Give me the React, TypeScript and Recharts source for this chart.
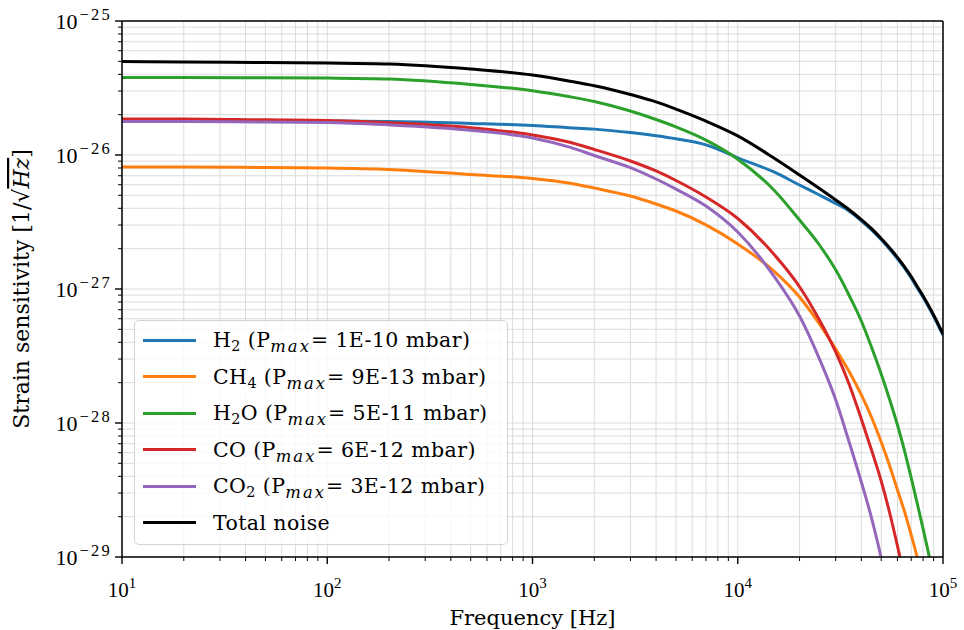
import React from "react";
import { LineChart, Line, XAxis, YAxis, CartesianGrid, Legend, ReferenceLine, Label } from "recharts";

// frequency samples [Hz]
const FREQ = [10, 20, 50, 100, 200, 500, 1000, 1500, 2000, 3000, 4000, 5000, 7000, 10000, 15000, 20000, 25000, 30000, 35000, 40000, 45000, 50000, 55000, 60000, 65000, 70000, 75000, 80000, 85000, 90000, 95000, 100000];

// strain sensitivity per gas [1/sqrt(Hz)]
const H2 = [1.79e-26, 1.79e-26, 1.79e-26, 1.79e-26, 1.78e-26, 1.72e-26, 1.66e-26, 1.6e-26, 1.56e-26, 1.47e-26, 1.39e-26, 1.32e-26, 1.19e-26, 9.53e-27, 7.47e-27, 5.97e-27, 5.03e-27, 4.35e-27, 3.81e-27, 3.23e-27, 2.75e-27, 2.33e-27, 1.98e-27, 1.68e-27, 1.43e-27, 1.21e-27, 1.02e-27, 8.69e-28, 7.38e-28, 6.27e-28, 5.32e-28, 4.52e-28];
const CH4 = [8.13e-27, 8.13e-27, 8.06e-27, 8.0e-27, 7.8e-27, 7.15e-27, 6.68e-27, 6.18e-27, 5.67e-27, 4.94e-27, 4.31e-27, 3.82e-27, 3.01e-27, 2.17e-27, 1.36e-27, 8.71e-28, 5.48e-28, 3.56e-28, 2.4e-28, 1.62e-28, 1.09e-28, 7.21e-29, 4.78e-29, 3.16e-29, 2.17e-29, 1.46e-29, 9.84e-30, 6.5e-30, null, null, null, null];
const H2O = [3.79e-26, 3.79e-26, 3.77e-26, 3.75e-26, 3.69e-26, 3.36e-26, 3.02e-26, 2.73e-26, 2.51e-26, 2.13e-26, 1.84e-26, 1.62e-26, 1.29e-26, 9.31e-27, 5.48e-27, 3.27e-27, 2.13e-27, 1.39e-27, 8.87e-28, 5.77e-28, 3.63e-28, 2.32e-28, 1.49e-28, 9.66e-29, 6.18e-29, 3.89e-29, 2.49e-29, 1.62e-29, 1.07e-29, 7.21e-30, null, null];
const CO = [1.86e-26, 1.86e-26, 1.83e-26, 1.81e-26, 1.74e-26, 1.6e-26, 1.41e-26, 1.25e-26, 1.1e-26, 9.02e-27, 7.6e-27, 6.45e-27, 4.86e-27, 3.36e-27, 1.82e-27, 1.04e-27, 5.87e-28, 3.39e-28, 1.92e-28, 1.07e-28, 6.18e-29, 3.69e-29, 2.13e-29, 1.21e-29, 6.97e-30, null, null, null, null, null, null, null];
const CO2 = [1.78e-26, 1.78e-26, 1.76e-26, 1.75e-26, 1.68e-26, 1.53e-26, 1.34e-26, 1.15e-26, 9.91e-27, 8.04e-27, 6.62e-27, 5.57e-27, 4.16e-27, 2.66e-27, 1.25e-27, 6.29e-28, 3.01e-28, 1.49e-28, 7.1e-29, 3.63e-29, 1.92e-29, 9.84e-30, 4.78e-30, null, null, null, null, null, null, null, null, null];
const TOTAL = [4.99e-26, 4.94e-26, 4.9e-26, 4.86e-26, 4.78e-26, 4.38e-26, 3.95e-26, 3.57e-26, 3.29e-26, 2.83e-26, 2.49e-26, 2.2e-26, 1.79e-26, 1.39e-26, 9.5e-27, 7.09e-27, 5.62e-27, 4.62e-27, 3.89e-27, 3.3e-27, 2.81e-27, 2.38e-27, 2.02e-27, 1.72e-27, 1.46e-27, 1.24e-27, 1.04e-27, 8.87e-28, 7.53e-28, 6.4e-28, 5.43e-28, 4.61e-28];

const GASES = ["H2", "CH4", "H2O", "CO", "CO2"];
const PRESSURES = ["1E-10", "9E-13", "5E-11", "6E-12", "3E-12"];
const KEYS = ["h2", "ch4", "h2o", "co", "co2", "total"];
const COLORS = ["#1f77b4", "#ff7f0e", "#2ca02c", "#d62728", "#9467bd", "#000000"];
const SERIES_VALUES = [H2, CH4, H2O, CO, CO2, TOTAL];

const X_MAJOR = [10, 100, 1000, 10000, 100000];
const Y_MAJOR = [1e-29, 1e-28, 1e-27, 1e-26, 1e-25];
const MINOR_STEPS = [2, 3, 4, 5, 6, 7, 8, 9];

const NUM_FONT = '"Liberation Serif", "DejaVu Serif", serif';
const TEXT_FONT = '"DejaVu Serif", "Liberation Serif", serif';

const withMinors = (majors: number[]) =>
  majors.flatMap((m, i) => (i === majors.length - 1 ? [m] : [m, ...MINOR_STEPS.map((s) => s * m)]));

const X_TICKS = withMinors(X_MAJOR);
const Y_TICKS = withMinors(Y_MAJOR);

const data = FREQ.map((f, i) => {
  const row: Record<string, number | null> = { f };
  KEYS.forEach((k, j) => {
    row[k] = SERIES_VALUES[j][i];
  });
  return row;
});

const isMajor = (v: number) => {
  const lg = Math.log10(v);
  return Math.abs(lg - Math.round(lg)) < 1e-6;
};

const XTick = (props: any) => {
  const { x, y, payload } = props;
  const v = payload.value;
  const major = isMajor(v);
  return (
    <g>
      <line x1={x} x2={x} y1={y} y2={y + (major ? 7 : 4)} stroke="#000" strokeWidth={major ? 1.4 : 1} />
      {major && (
        <text x={x} y={y + 40} textAnchor="middle" fontFamily={NUM_FONT} fontSize={21} fill="#000">
          10
          <tspan dy={-9} fontSize={15}>{Math.round(Math.log10(v))}</tspan>
        </text>
      )}
    </g>
  );
};

const YTick = (props: any) => {
  const { x, y, payload } = props;
  const v = payload.value;
  const major = isMajor(v);
  return (
    <g>
      <line x1={x} x2={x - (major ? 7 : 4)} y1={y} y2={y} stroke="#000" strokeWidth={major ? 1.4 : 1} />
      {major && (
        <text x={x - 10} y={y + 8} textAnchor="end" fontFamily={NUM_FONT} fontSize={22} fill="#000">
          10
          <tspan dx={2} dy={-9} fontSize={16.5} letterSpacing={2.2}>
            {"\u2212" + -Math.round(Math.log10(v))}
          </tspan>
        </text>
      )}
    </g>
  );
};

const subStyle: React.CSSProperties = { fontSize: "0.7em", verticalAlign: "-0.3em", lineHeight: 0 };

const Formula = ({ text }: { text: string }) => (
  <>
    {text.split(/(\d+)/).map((part, i) =>
      /\d/.test(part) ? (
        <sub key={i} style={subStyle}>
          {part}
        </sub>
      ) : (
        <span key={i}>{part}</span>
      )
    )}
  </>
);

const LegendBox = () => (
  <div
    style={{
      width: 374,
      height: 225,
      boxSizing: "border-box",
      border: "1px solid #d4d4d4",
      borderRadius: 5,
      background: "rgba(255,255,255,0.8)",
      paddingTop: 1,
      fontFamily: TEXT_FONT,
      fontSize: 20.5,
      letterSpacing: 0.4,
      color: "#000",
    }}
  >
    {KEYS.map((k, i) => (
      <div key={k} style={{ height: 36.5, display: "flex", alignItems: "center", whiteSpace: "nowrap" }}>
        <div style={{ width: 53, height: 3, background: COLORS[i], marginLeft: 8, marginRight: 17 }} />
        {i < GASES.length ? (
          <span>
            <Formula text={GASES[i]} /> (P
            <sub style={{ ...subStyle, fontSize: "0.8em", fontStyle: "italic", letterSpacing: 2 }}>max</sub>= {PRESSURES[i]} mbar)
          </span>
        ) : (
          <span>Total noise</span>
        )}
      </div>
    ))}
  </div>
);

export default function App() {
  return (
    <div style={{ width: 964, height: 630, position: "relative", background: "#fff" }}>
      <style>{`body{margin:0}`}</style>
      <LineChart width={964} height={630} data={data} margin={{ top: 21, right: 21, bottom: 0, left: 0 }}>
        <CartesianGrid stroke="#dcdcdc" strokeWidth={1} />
        <XAxis
          dataKey="f"
          type="number"
          scale="log"
          domain={[10, 100000]}
          ticks={X_TICKS}
          interval={0}
          allowDataOverflow
          height={73}
          tickSize={0}
          tickMargin={0}
          tickLine={false}
          tick={<XTick />}
          axisLine={{ stroke: "#000", strokeWidth: 1.5 }}
        >
          <Label
            content={(p: any) => {
              const vb = p.viewBox;
              return (
                <text x={vb.x + vb.width / 2} y={vb.y + 68} textAnchor="middle" fontFamily={TEXT_FONT} fontSize={21} fill="#000">
                  Frequency [Hz]
                </text>
              );
            }}
          />
        </XAxis>
        <YAxis
          type="number"
          scale="log"
          domain={[1e-29, 1e-25]}
          ticks={Y_TICKS}
          interval={0}
          allowDataOverflow
          width={122}
          tickSize={0}
          tickMargin={0}
          tickLine={false}
          tick={<YTick />}
          axisLine={{ stroke: "#000", strokeWidth: 1.5 }}
        >
          <Label
            content={(p: any) => {
              const vb = p.viewBox;
              const cy = vb.y + vb.height / 2;
              return (
                <text x={29} y={cy} transform={`rotate(-90, 29, ${cy})`} textAnchor="middle" fontFamily={TEXT_FONT} fontSize={22} fill="#000">
                  Strain sensitivity [1/
                  <tspan>{"\u221A"}</tspan>
                  <tspan fontStyle="italic" style={{ textDecoration: "overline" }}>Hz</tspan>]
                </text>
              );
            }}
          />
        </YAxis>
        {KEYS.map((k, i) => (
          <Line
            key={k}
            type="monotone"
            dataKey={k}
            stroke={COLORS[i]}
            strokeWidth={3}
            strokeLinejoin="round"
            dot={false}
            activeDot={false}
            isAnimationActive={false}
          />
        ))}
        <ReferenceLine y={1e-25} stroke="#000" strokeWidth={1.5} ifOverflow="visible" />
        <ReferenceLine x={100000} stroke="#000" strokeWidth={1.5} ifOverflow="visible" />
        <Legend
          layout="vertical"
          align="center"
          verticalAlign="middle"
          wrapperStyle={{ left: 134, top: 320, width: 374 }}
          content={() => <LegendBox />}
        />
      </LineChart>
    </div>
  );
}
